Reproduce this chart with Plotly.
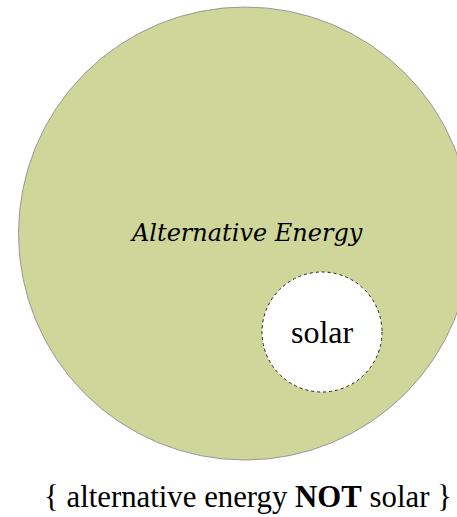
import plotly.graph_objects as go

# Sets (circle centres and radii in chart units)
set_names = ["Alternative Energy", "solar"]
set_cx = [245, 322]
set_cy = [233.5, 332]
set_r = [226.5, 60]
caption_parts = ["{ alternative energy ", "NOT", " solar }"]

fig = go.Figure()
fig.add_trace(go.Scatter(x=[0, 457], y=[0, 517], mode="markers",
                         marker=dict(opacity=0), hoverinfo="skip", showlegend=False))

# big circle
fig.add_shape(type="circle", xref="x", yref="y",
              x0=set_cx[0] - set_r[0], x1=set_cx[0] + set_r[0],
              y0=set_cy[0] - set_r[0], y1=set_cy[0] + set_r[0],
              fillcolor="#CED69A", line=dict(color="#999999", width=1), layer="below")
# small circle
fig.add_shape(type="circle", xref="x", yref="y",
              x0=set_cx[1] - set_r[1], x1=set_cx[1] + set_r[1],
              y0=set_cy[1] - set_r[1], y1=set_cy[1] + set_r[1],
              fillcolor="white", line=dict(color="#222222", width=1, dash="dot"), layer="below")

fig.add_annotation(x=246.5, y=233, xref="x", yref="y", text="<i>" + set_names[0] + "</i>",
                   showarrow=False, font=dict(family="DejaVu Serif", size=24, color="black"))
fig.add_annotation(x=set_cx[1], y=set_cy[1], xref="x", yref="y", text=set_names[1],
                   showarrow=False, font=dict(family="Liberation Serif", size=32, color="black"))
fig.add_annotation(x=247.5, y=497, xref="x", yref="y",
                   text=caption_parts[0] + "<b>" + caption_parts[1] + "</b>" + caption_parts[2],
                   showarrow=False, font=dict(family="Liberation Serif", size=30.8, color="black"))

fig.update_layout(width=457, height=517, margin=dict(l=0, r=0, t=0, b=0),
                  paper_bgcolor="white", plot_bgcolor="white", showlegend=False)
fig.update_xaxes(range=[0, 457], visible=False, fixedrange=True)
fig.update_yaxes(range=[517, 0], visible=False, fixedrange=True)
fig.write_html("out.html", config={"displayModeBar": False},
               post_script="document.body.style.margin='0';document.body.style.overflow='hidden';")
